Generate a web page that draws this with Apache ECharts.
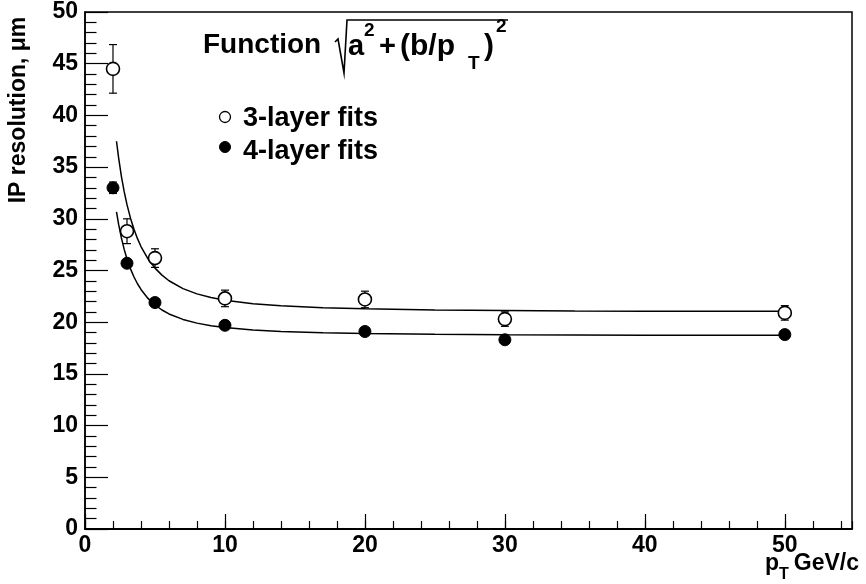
<!DOCTYPE html>
<html>
<head>
<meta charset="utf-8">
<script src="https://cdn.jsdelivr.net/npm/echarts@6/dist/echarts.min.js"></script>
<style>
html,body{margin:0;padding:0;background:#fff;}
#chart{width:866px;height:584px;}
</style>
</head>
<body>
<div id="chart"></div>
<script>
// ---- data ----
const ptValues = [2, 3, 5, 10, 20, 30, 50];
const layer3 = [44.5, 28.8, 26.2, 22.3, 22.2, 20.3, 20.9];
const layer3Err = [2.35, 1.2, 0.9, 0.8, 0.8, 0.7, 0.7];
const layer4 = [33.0, 25.7, 21.9, 19.7, 19.1, 18.3, 18.8];
const layer4Err = [0.55, 0.3, 0.3, 0.3, 0.3, 0.3, 0.3];
// fit curves
const fitPt = [2.25, 2.4, 2.6, 2.8, 3, 3.25, 3.5, 3.75, 4, 4.5, 5, 5.5, 6, 7, 8, 9, 10, 12, 14, 17, 20, 25, 30, 35, 40, 45, 50];
const fit3 = [37.50, 35.91, 34.11, 32.62, 31.37, 30.06, 28.98, 28.08, 27.32, 26.12, 25.23, 24.55, 24.01, 23.25, 22.74, 22.39, 22.13, 21.79, 21.58, 21.40, 21.29, 21.19, 21.13, 21.09, 21.07, 21.06, 21.05];
const fit4 = [30.67, 29.48, 28.15, 27.04, 26.12, 25.16, 24.37, 23.72, 23.17, 22.30, 21.67, 21.18, 20.80, 20.27, 19.91, 19.66, 19.48, 19.25, 19.10, 18.98, 18.90, 18.83, 18.79, 18.77, 18.75, 18.74, 18.73];
const yTicks = [0, 5, 10, 15, 20, 25, 30, 35, 40, 45, 50];
const xTicks = [0, 10, 20, 30, 40, 50];
const seriesNames = ['3-layer fits', '4-layer fits'];

const FONT = "'Liberation Sans', Arial, Helvetica, sans-serif";
const chart = echarts.init(document.getElementById('chart'), null, {renderer: 'canvas'});

function pairs(xs, ys) { return xs.map((x, i) => [x, ys[i]]); }
function errData(xs, ys, es) { return xs.map((x, i) => [x, ys[i] - es[i], ys[i] + es[i]]); }

function errRender(params, api) {
  const x = api.value(0);
  const lo = api.coord([x, api.value(1)]);
  const hi = api.coord([x, api.value(2)]);
  const cw = 4;
  const st = {stroke: '#000', lineWidth: 1.2};
  return {
    type: 'group',
    children: [
      {type: 'line', shape: {x1: lo[0], y1: lo[1], x2: hi[0], y2: hi[1]}, style: st},
      {type: 'line', shape: {x1: lo[0] - cw, y1: lo[1], x2: lo[0] + cw, y2: lo[1]}, style: st},
      {type: 'line', shape: {x1: hi[0] - cw, y1: hi[1], x2: hi[0] + cw, y2: hi[1]}, style: st}
    ]
  };
}

const labelStyle = {color: '#000', fontFamily: FONT, fontWeight: 'bold', fontSize: 23};

function txt(x, y, text, size, align) {
  return {type: 'text', x: x, y: y, style: {text: text, font: 'bold ' + size + 'px ' + FONT, fill: '#000', align: align || 'left', verticalAlign: 'middle'}};
}

const option = {
  backgroundColor: '#fff',
  animation: false,
  grid: {left: 85, right: 14, top: 12, bottom: 55, show: true, borderColor: '#000', borderWidth: 1.5, backgroundColor: 'transparent'},
  xAxis: [
    {
      type: 'value', min: 0, max: 54.8, interval: 10,
      axisLine: {show: true, onZero: false, lineStyle: {color: '#000', width: 2}},
      axisTick: {show: true, inside: true, length: 15, lineStyle: {color: '#000', width: 1.2}},
      minorTick: {show: false},
      splitLine: {show: false},
      axisLabel: Object.assign({margin: 5, showMaxLabel: false, showMinLabel: true,
        formatter: v => (xTicks.indexOf(v) >= 0 ? String(v) : '')}, labelStyle)
    },
    {
      type: 'value', min: 0, max: 54.8, interval: 2, position: 'bottom',
      axisLine: {show: false},
      axisTick: {show: true, inside: true, length: 8, lineStyle: {color: '#000', width: 1.2}},
      splitLine: {show: false},
      axisLabel: {show: false}
    }
  ],
  yAxis: {
    type: 'value', min: 0, max: 50, interval: 5,
    axisLine: {show: true, onZero: false, lineStyle: {color: '#000', width: 1.5}},
    axisTick: {show: true, inside: true, length: 23, lineStyle: {color: '#000', width: 1.2}},
    minorTick: {show: true, splitNumber: 5, length: 11.5, lineStyle: {color: '#000', width: 1.2}},
    splitLine: {show: false},
    axisLabel: Object.assign({margin: 7, formatter: v => (yTicks.indexOf(v) >= 0 ? String(v) : '')}, labelStyle)
  },
  series: [
    {
      type: 'line', name: 'fit3', data: pairs(fitPt, fit3), showSymbol: false, symbol: 'none',
      smooth: false, lineStyle: {color: '#000', width: 1.5}, z: 2, silent: true
    },
    {
      type: 'line', name: 'fit4', data: pairs(fitPt, fit4), showSymbol: false, symbol: 'none',
      smooth: false, lineStyle: {color: '#000', width: 1.5}, z: 2, silent: true
    },
    {type: 'custom', name: 'err3', data: errData(ptValues, layer3, layer3Err), renderItem: errRender, z: 3, silent: true},
    {type: 'custom', name: 'err4', data: errData(ptValues, layer4, layer4Err), renderItem: errRender, z: 3, silent: true},
    {
      type: 'scatter', name: seriesNames[0], data: pairs(ptValues, layer3), symbol: 'circle', symbolSize: 13,
      itemStyle: {color: '#fff', borderColor: '#000', borderWidth: 1.6, opacity: 1}, z: 5
    },
    {
      type: 'scatter', name: seriesNames[1], data: pairs(ptValues, layer4), symbol: 'circle', symbolSize: 12,
      itemStyle: {color: '#000', borderColor: '#000', borderWidth: 1, opacity: 1}, z: 5
    }
  ],
  graphic: [
    // y-axis title
    {type: 'text', x: 19, y: 110, rotation: Math.PI / 2,
      style: {text: 'IP resolution, μm', font: 'bold 23px ' + FONT, fill: '#000', align: 'center', verticalAlign: 'middle'}},
    // x-axis title
    txt(765, 564, 'p', 23),
    txt(779, 575, 'T', 16),
    txt(859, 564, 'GeV/c', 23, 'right'),
    // function annotation
    txt(203, 45, 'Function', 28),
    {type: 'polyline', shape: {points: [[335, 42], [338, 39], [344, 73], [347, 20], [508, 20]]},
      style: {stroke: '#000', lineWidth: 1.6, fill: null}},
    txt(348, 47, 'a', 29),
    txt(364, 31, '2', 19),
    txt(379, 47, '+', 29),
    txt(400, 47, '(b/p', 30),
    txt(468, 64, 'T', 19),
    txt(484, 47, ')', 30),
    txt(496, 27, '2', 19),
    // legend
    {type: 'circle', shape: {cx: 225, cy: 117, r: 5.5}, style: {fill: '#fff', stroke: '#000', lineWidth: 1.3}},
    txt(243, 119, seriesNames[0], 27),
    {type: 'circle', shape: {cx: 225, cy: 147, r: 5.5}, style: {fill: '#000', stroke: '#000', lineWidth: 1}},
    txt(243, 152, seriesNames[1], 27)
  ]
};
chart.setOption(option);
</script>
</body>
</html>
